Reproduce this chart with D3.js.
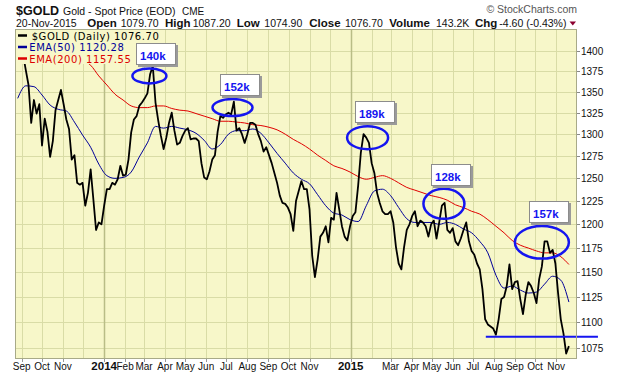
<!DOCTYPE html>
<html><head><meta charset="utf-8">
<script src="https://cdn.jsdelivr.net/npm/d3@7"></script>
<style>body{margin:0;background:#fff;}svg{display:block;}</style>
</head><body>
<svg id="chart" width="620" height="376"></svg>
<script>
// ---------------- DATA ----------------
const priceStart = "2013-08-26";
const priceStepDays = 4;
const priceValues = [
 1395,1405,1395,1376,1358,1313,1340,1324,1335,1287,
 1318,1303,1274,1292,1328,1340,1352,1335,1317,1306,
 1271,1276,1245,1243,1245,1220,1234,1260,1227,1194,
 1202,1200,1220,1238,1238,1245,1243,1249,1264,1253,
 1254,1271,1302,1317,1321,1333,1337,1342,1348,1371,
 1381,1337,1316,1298,1283,1296,1313,1325,1304,1288,
 1290,1298,1304,1307,1294,1295,1295,1292,1267,1251,
 1249,1258,1271,1276,1303,1321,1319,1323,1325,1323,
 1338,1304,1307,1300,1290,1300,1313,1313,1311,1300,
 1292,1280,1285,1276,1267,1256,1245,1231,1223,1222,
 1218,1211,1193,1225,1236,1247,1238,1238,1216,1167,
 1145,1163,1187,1191,1198,1181,1207,1205,1234,1216,
 1198,1187,1183,1198,1209,1213,1242,1279,1300,1296,
 1290,1267,1256,1234,1223,1214,1211,1211,1214,1202,
 1176,1159,1153,1176,1194,1200,1209,1214,1198,1204,
 1202,1198,1187,1200,1204,1185,1202,1220,1223,1194,
 1191,1196,1182,1178,1185,1194,1202,1182,1172,1168,
 1159,1153,1133,1103,1098,1096,1094,1088,1103,1123,
 1125,1136,1158,1133,1140,1141,1123,1108,1127,1140,
 1136,1129,1119,1143,1156,1182,1182,1170,1173,1159,
 1129,1103,1089,1070,1077
];
const emaStart = "2013-08-26";
const emaStepDays = 12;
const ema50Values = [
 1342,1357,1356,1346,1334,1329,1327,1314,1299,1285,
 1266,1253,1250,1251,1257,1274,1290,1309,1307,1309,
 1307,1305,1301,1293,1283,1288,1300,1304,1304,1306,
 1301,1290,1278,1267,1256,1249,1244,1232,1220,1212,
 1210,1205,1203,1220,1236,1238,1231,1218,1206,1202,
 1202,1202,1200,1202,1200,1195,1191,1182,1170,1147,
 1134,1136,1132,1129,1130,1138,1146,1142,1120
];
const ema200Values = [
 1440,1434,1428,1421,1414,1407,1400,1394,1388,1382,
 1369,1358,1347,1340,1333,1331,1331,1333,1333,1330,
 1328,1327,1324,1321,1318,1315,1315,1314,1313,1311,
 1310,1308,1305,1300,1294,1289,1283,1276,1270,1264,
 1261,1257,1252,1249,1251,1253,1250,1245,1240,1237,
 1234,1231,1229,1226,1221,1218,1214,1211,1205,1198,
 1191,1183,1178,1175,1172,1170,1170,1166,1158
];
const yTickValues = [1075,1100,1125,1150,1175,1200,1225,1250,1275,1300,1325,1350,1375,1400];
const xTickDates = ["2013-09-01","2013-10-01","2013-11-01","2014-01-01","2014-02-01","2014-03-01","2014-04-01","2014-05-01","2014-06-01","2014-07-01","2014-08-01","2014-09-01","2014-10-01","2014-11-01","2015-01-01","2015-03-01","2015-04-01","2015-05-01","2015-06-01","2015-07-01","2015-08-01","2015-09-01","2015-10-01","2015-11-01"];
const xTickLabels = ["Sep","Oct","Nov","2014","Feb","Mar","Apr","May","Jun","Jul","Aug","Sep","Oct","Nov","2015","Mar","Apr","May","Jun","Jul","Aug","Sep","Oct","Nov"];
const annDates = ["2014-03-09","2014-07-10","2015-01-26","2015-05-19","2015-10-11"];
const annPrices = [1369,1331,1296,1222,1181];
const annLabels = ["140k","152k","189k","128k","157k"];
const supportPrice = 1086;
const supportFrom = "2015-07-20";
const supportTo = "2016-01-02";
const legendLabels = ["$GOLD (Daily) 1076.70","EMA(50) 1120.28","EMA(200) 1157.55"];
const headerTitle = "$GOLD";
const headerSub = "Gold - Spot Price (EOD)";
const headerExch = "CME";
const quoteDate = "20-Nov-2015";
const quoteFields = [["Open","1079.70"],["High","1087.20"],["Low","1074.90"],["Close","1076.70"],["Volume","143.2K"],["Chg","-4.60 (-0.43%)"]];
const credit = "\u00A9 StockCharts.com";

// ---------------- DRAW ----------------
const parse = d3.timeParse("%Y-%m-%d");
const P = {l:15, r:577, t:29, b:359};
const x = d3.scaleTime().domain([new Date(2013,7,22), new Date(2015,11,2)]).range([P.l,P.r]);
const y = d3.scaleLog().domain([1064.8,1427.2]).range([P.b,P.t]);

const series = (start, step, vals) => vals.map((v,i)=>({d:d3.timeDay.offset(parse(start), i*step), v}));
const price = series(priceStart, priceStepDays, priceValues);
const e50 = series(emaStart, emaStepDays, ema50Values);
const e200 = series(emaStart, emaStepDays, ema200Values);

const svg = d3.select("#chart");
const SANS = "'Liberation Sans', Arial, sans-serif";
const VERD = "'DejaVu Sans', Verdana, sans-serif";
const BG = "#f7f7c9", GRID = "#d9dca6", GRIDY = "#b9bd86";

svg.append("rect").attr("x",P.l).attr("y",P.t).attr("width",P.r-P.l).attr("height",P.b-P.t).attr("fill",BG);
svg.append("defs").append("clipPath").attr("id","clip").append("rect")
  .attr("x",P.l).attr("y",P.t).attr("width",P.r-P.l).attr("height",P.b-P.t);

const g = svg.append("g");
g.selectAll("line.h").data(yTickValues).join("line")
  .attr("x1",P.l).attr("x2",P.r).attr("y1",d=>Math.round(y(d))+0.5).attr("y2",d=>Math.round(y(d))+0.5)
  .attr("stroke",GRID).attr("stroke-width",1);
const months = d3.timeMonth.range(new Date(2013,8,1), new Date(2015,11,2));
g.selectAll("line.v").data(months).join("line")
  .attr("x1",d=>Math.round(x(d))+0.5).attr("x2",d=>Math.round(x(d))+0.5).attr("y1",P.t).attr("y2",P.b)
  .attr("stroke",d=>d.getMonth()===0?GRIDY:GRID).attr("stroke-width",d=>d.getMonth()===0?1.5:1);

const lines = svg.append("g").attr("clip-path","url(#clip)");
const lineGen = d3.line().x(d=>x(d.d)).y(d=>y(d.v));
const smooth = d3.line().x(d=>x(d.d)).y(d=>y(d.v)).curve(d3.curveMonotoneX);
lines.append("path").attr("d",smooth(e200)).attr("fill","none").attr("stroke","#e00000").attr("stroke-width",1);
lines.append("path").attr("d",smooth(e50)).attr("fill","none").attr("stroke","#000099").attr("stroke-width",1);
lines.append("path").attr("d",lineGen(price)).attr("fill","none").attr("stroke","#000").attr("stroke-width",1.8).attr("stroke-linejoin","round");

// legend (opaque background)
svg.append("rect").attr("x",P.l+1).attr("y",P.t+1).attr("width",147).attr("height",34).attr("fill",BG);
const legColors = ["#000","#000099","#dd0000"];
const legX = [31.7,29.3,29.3];
const legY = [39.5,51,62.5];
legendLabels.forEach((t,i)=>{
  svg.append("line").attr("x1",18).attr("x2",27).attr("y1",legY[i]-4).attr("y2",legY[i]-4)
    .attr("stroke",legColors[i]).attr("stroke-width",2.5);
  svg.append("text").attr("x",legX[i]).attr("y",legY[i]).attr("fill",legColors[i])
    .attr("font-family",VERD).attr("font-size",10).attr("letter-spacing",0.55).text(t);
});

// annotations
const ell = {rx:[17,20,20.5,20.5,27], ry:[7.5,8.5,11.5,15,16.3]};
const BLUE = "#1515f0";
annLabels.forEach((lab,i)=>{
  const cx = x(parse(annDates[i])), cy = y(annPrices[i]);
  svg.append("ellipse").attr("cx",cx).attr("cy",cy).attr("rx",ell.rx[i]).attr("ry",ell.ry[i])
    .attr("fill","none").attr("stroke",BLUE).attr("stroke-width",2.5);
  const bx = Math.round(cx - 13), by = Math.round(cy - ell.ry[i] - 3 - 22);
  svg.append("rect").attr("x",bx+2).attr("y",by+2).attr("width",40).attr("height",22).attr("fill","#9a9a9a");
  svg.append("rect").attr("x",bx+0.5).attr("y",by+0.5).attr("width",39).attr("height",21).attr("fill","#fff").attr("stroke","#8c8c8c");
  svg.append("text").attr("x",bx+4).attr("y",by+16.5).attr("fill",BLUE).attr("font-family",SANS)
    .attr("font-weight","bold").attr("font-size",11.5).text(lab);
});
svg.append("line").attr("x1",x(parse(supportFrom))).attr("x2",x(parse(supportTo)))
  .attr("y1",y(supportPrice)).attr("y2",y(supportPrice)).attr("stroke",BLUE).attr("stroke-width",2);

svg.append("rect").attr("x",P.l+0.5).attr("y",P.t+0.5).attr("width",P.r-P.l-1).attr("height",P.b-P.t-1)
  .attr("fill","none").attr("stroke","#a8aa88");

// right axis
const ax = svg.append("g");
yTickValues.forEach(v=>{
  const yy = Math.round(y(v))+0.5;
  ax.append("line").attr("x1",P.r).attr("x2",P.r+3).attr("y1",yy).attr("y2",yy).attr("stroke","#888");
  ax.append("text").attr("x",P.r+4).attr("y",yy+3.5).attr("font-family",SANS).attr("font-size",10).attr("fill","#111").text(v);
});
// bottom axis
xTickDates.forEach((ds,i)=>{
  const xx = x(parse(ds));
  const yr = /^\d{4}$/.test(xTickLabels[i]);
  ax.append("line").attr("x1",Math.round(xx)+0.5).attr("x2",Math.round(xx)+0.5).attr("y1",P.b).attr("y2",P.b+3).attr("stroke","#999");
  ax.append("text").attr("x",xx).attr("y",369.5).attr("text-anchor","middle").attr("font-family",SANS)
    .attr("font-size",yr?11.5:10).attr("font-weight",yr?"bold":"normal").attr("fill","#111").text(xTickLabels[i]);
});

// header
svg.append("text").attr("x",16).attr("y",14.5).attr("font-family",SANS).attr("font-weight","bold").attr("font-size",12.5).attr("fill","#111").text(headerTitle);
svg.append("text").attr("x",63).attr("y",14.5).attr("font-family",SANS).attr("font-size",10.5).attr("fill","#111").text(headerSub);
svg.append("text").attr("x",182).attr("y",14.5).attr("font-family",SANS).attr("font-size",10).attr("fill","#111").text(headerExch);
svg.append("text").attr("x",577).attr("y",13).attr("text-anchor","end").attr("font-family",SANS).attr("font-size",10.5).attr("fill","#555").text(credit);
const qY = 26.5;
svg.append("text").attr("x",16).attr("y",qY).attr("font-family",SANS).attr("font-size",10.5).attr("fill","#111").text(quoteDate);
const labX = [87.3,165,236.7,309.3,389.3,475];
const valX = [120.7,192.7,264.3,345,436,499.3];
quoteFields.forEach((f,i)=>{
  svg.append("text").attr("x",labX[i]).attr("y",qY).attr("font-family",SANS).attr("font-weight","bold").attr("font-size",11.5).attr("fill","#111").text(f[0]);
  svg.append("text").attr("x",valX[i]).attr("y",qY).attr("font-family",SANS).attr("font-size",10.5).attr("fill","#111").text(f[1]);
});
svg.append("path").attr("d","M569.5,21.5 L576,21.5 L572.75,25.5 Z").attr("fill","#8b0030");
</script>
</body></html>
